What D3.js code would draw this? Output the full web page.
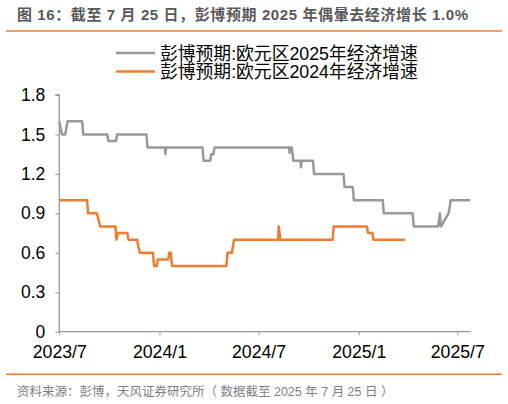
<!DOCTYPE html>
<html>
<head>
<meta charset="utf-8">
<script src="https://cdn.jsdelivr.net/npm/d3@7"></script>
<style>
  body { margin: 0; background: #fff; }
  svg { display: block; font-family: "Liberation Sans", "Noto Sans CJK SC", sans-serif; }
</style>
</head>
<body>
<svg id="chart" width="508" height="404"></svg>
<script>
// 彭博预期:欧元区2025年经济增速
const series2025 = [
  ["2023-07-01", 1.6], ["2023-07-03", 1.55], ["2023-07-06", 1.5], ["2023-07-12", 1.5],
  ["2023-07-16", 1.6], ["2023-08-12", 1.6], ["2023-08-14", 1.5], ["2023-09-27", 1.5],
  ["2023-09-29", 1.45], ["2023-10-13", 1.45], ["2023-10-15", 1.5], ["2023-12-08", 1.5],
  ["2023-12-10", 1.4], ["2024-01-11", 1.4], ["2024-01-12", 1.35], ["2024-01-13", 1.4],
  ["2024-03-20", 1.4], ["2024-03-22", 1.3], ["2024-04-03", 1.3], ["2024-04-05", 1.35],
  ["2024-04-09", 1.35], ["2024-04-11", 1.4], ["2024-08-26", 1.4], ["2024-08-27", 1.36],
  ["2024-08-28", 1.4], ["2024-08-31", 1.4], ["2024-09-03", 1.3], ["2024-09-16", 1.3],
  ["2024-09-17", 1.25], ["2024-09-18", 1.3], ["2024-10-09", 1.3], ["2024-10-11", 1.2],
  ["2024-12-04", 1.2], ["2024-12-06", 1.1], ["2024-12-21", 1.1], ["2024-12-23", 1.0],
  ["2025-02-14", 1.0], ["2025-02-16", 0.9], ["2025-04-10", 0.9], ["2025-04-12", 0.8],
  ["2025-05-27", 0.8], ["2025-05-30", 0.9], ["2025-06-01", 0.8], ["2025-06-08", 0.85],
  ["2025-06-15", 0.9], ["2025-06-19", 1.0], ["2025-07-25", 1.0]
];

// 彭博预期:欧元区2024年经济增速
const series2024 = [
  ["2023-07-01", 1.0], ["2023-08-21", 1.0], ["2023-08-23", 0.9], ["2023-09-08", 0.9],
  ["2023-09-11", 0.85], ["2023-09-14", 0.8], ["2023-10-12", 0.8], ["2023-10-14", 0.7],
  ["2023-10-17", 0.75], ["2023-11-03", 0.75], ["2023-11-05", 0.7], ["2023-11-21", 0.7],
  ["2023-11-23", 0.65], ["2023-11-26", 0.6], ["2023-12-20", 0.6], ["2023-12-22", 0.5],
  ["2023-12-27", 0.5], ["2023-12-29", 0.55], ["2024-01-17", 0.55], ["2024-01-19", 0.6],
  ["2024-01-22", 0.6], ["2024-01-24", 0.5], ["2024-05-03", 0.5], ["2024-05-05", 0.6],
  ["2024-05-13", 0.6], ["2024-05-17", 0.7], ["2024-08-06", 0.7], ["2024-08-07", 0.8],
  ["2024-08-10", 0.7], ["2024-11-14", 0.7], ["2024-11-16", 0.8], ["2025-01-16", 0.8],
  ["2025-01-18", 0.75], ["2025-01-26", 0.75], ["2025-01-28", 0.7], ["2025-03-27", 0.7]
];

const seriesNames = ["彭博预期:欧元区2025年经济增速", "彭博预期:欧元区2024年经济增速"];
const seriesColors = ["#999999", "#ED7D31"];
const yTicks = [0, 0.3, 0.6, 0.9, 1.2, 1.5, 1.8];
const xTicks = ["2023-07-01", "2024-01-01", "2024-07-01", "2025-01-01", "2025-07-01"];
const xTickLabels = ["2023/7", "2024/1", "2024/7", "2025/1", "2025/7"];

const title = "图 16：截至 7 月 25 日，彭博预期 2025 年偶暈去经济增长 1.0%";
const source = "资料来源：彭博，天风证券研究所（ 数据截至 2025 年 7 月 25 日 ）";

const parse = d3.timeParse("%Y-%m-%d");
const svg = d3.select("#chart");

const plotLeft = 59.3, plotRight = 470.7, plotTop = 95, plotBottom = 331.7;

const x = d3.scaleTime()
  .domain([parse("2023-07-01"), parse("2025-07-01")])
  .range([plotLeft, 457.3]);
const y = d3.scaleLinear().domain([0, 1.8]).range([plotBottom, plotTop]);

// title + rules
svg.append("text")
  .attr("x", 17).attr("y", 19.5)
  .attr("font-size", 15).attr("font-weight", "bold")
  .attr("fill", "#595959")
  .attr("textLength", 451).attr("lengthAdjust", "spacing")
  .text(title);

svg.append("line")
  .attr("x1", 6).attr("x2", 502).attr("y1", 31).attr("y2", 31)
  .attr("stroke", "#ED7D31").attr("stroke-width", 1.5);

svg.append("line")
  .attr("x1", 6).attr("x2", 502).attr("y1", 374.3).attr("y2", 374.3)
  .attr("stroke", "#ED7D31").attr("stroke-width", 1.5);

svg.append("text")
  .attr("x", 17).attr("y", 396)
  .attr("font-size", 12.5)
  .attr("fill", "#7f7f7f")
  .text(source);

// legend
seriesNames.forEach((name, i) => {
  let ly = 53 + i * 18.5;
  svg.append("line")
    .attr("x1", 116).attr("x2", 155).attr("y1", ly).attr("y2", ly)
    .attr("stroke", seriesColors[i]).attr("stroke-width", 2.5);
  svg.append("text")
    .attr("x", 160).attr("y", ly + 6.5)
    .attr("font-size", 17.8)
    .attr("fill", "#000")
    .text(name);
});

// y axis
const yAxis = d3.axisLeft(y).tickValues(yTicks).tickSize(4).tickPadding(10)
  .tickFormat(d => d === 0 ? "0" : d3.format(".1f")(d));
const gy = svg.append("g").attr("transform", `translate(${plotLeft},0)`).call(yAxis);
gy.select(".domain").attr("stroke", "#999").attr("stroke-width", 1.3).attr("d", `M-4,${plotTop}H0V${plotBottom}`);
gy.selectAll(".tick line").attr("stroke", "#999");
gy.selectAll(".tick text").attr("font-size", 17.5).attr("fill", "#000")
  .attr("font-family", "Liberation Sans");

// x axis
const xAxis = d3.axisBottom(x).tickValues(xTicks.map(parse)).tickSize(3.5).tickPadding(10.5)
  .tickFormat((d, i) => xTickLabels[i]);
const gx = svg.append("g").attr("transform", `translate(0,${plotBottom})`).call(xAxis);
gx.select(".domain").attr("stroke", "#999").attr("stroke-width", 1.3).attr("d", `M${plotLeft},0H${plotRight}`);
gx.selectAll(".tick line").attr("stroke", "#999");
gx.selectAll(".tick text").attr("font-size", 17.7).attr("fill", "#000")
  .attr("font-family", "Liberation Sans");

// lines
const line = d3.line()
  .x(d => x(parse(d[0])))
  .y(d => y(d[1]));

[series2025, series2024].forEach((s, i) => {
  svg.append("path")
    .datum(s)
    .attr("d", line)
    .attr("fill", "none")
    .attr("stroke", seriesColors[i])
    .attr("stroke-width", 2.5)
    .attr("stroke-linejoin", "round");
});
</script>
</body>
</html>
